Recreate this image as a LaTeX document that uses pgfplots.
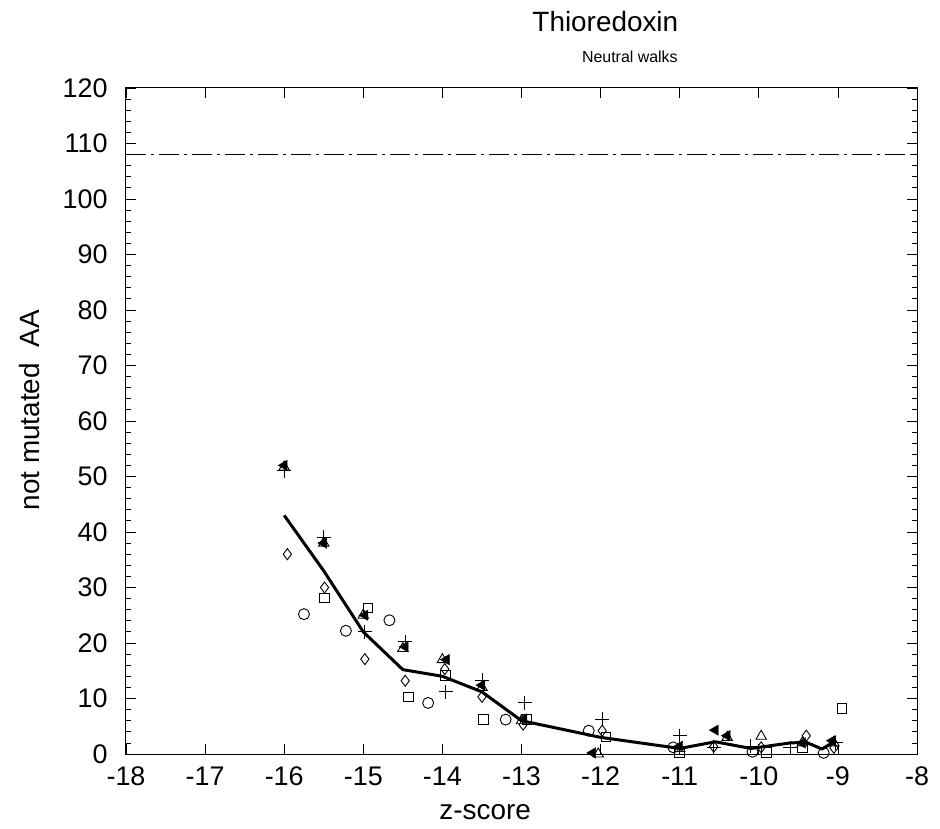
\documentclass[border=0pt]{standalone}
\usepackage{pgfplots}
\pgfplotsset{compat=1.18}
\usepackage{fontspec}
\setmainfont{Liberation Sans}
\begin{document}
\begin{tikzpicture}
\begin{axis}[
  scale only axis,
  width=791bp, height=666bp,
  xmin=-18, xmax=-8, ymin=0, ymax=120,
  xtick={-18,-17,...,-8},
  ytick={0,10,...,120},
  minor y tick num=4,
  tick align=inside,
  major tick length=10bp,
  minor tick length=5bp,
  axis line style={line width=1bp},
  every tick/.style={line width=0.8bp, black},
  /pgf/number format/assume math mode=true,
  tick label style={font=\fontsize{27}{32}\selectfont},
  xticklabel style={yshift=-9bp},
  yticklabel style={xshift=-15bp},
  clip=false,
]
% dash-dot reference line
\addplot[black, line width=1bp, dash pattern=on 20bp off 5bp on 3bp off 5bp] coordinates {(-18,108) (-8,108)};
% mean curve
\addplot[black, line width=3bp, line join=round] coordinates {
(-16,43) (-15.5,33) (-15,22) (-14.5,15.2) (-14,14) (-13.5,11.2) (-13,6) (-12,3) (-11,1) (-10.55,2.2) (-10.1,1) (-9.6,2) (-9.4,2.1) (-9.2,0.9) (-9.05,2.2)};
% open triangles
\addplot[only marks, mark=triangle, mark size=6bp, mark options={line width=0.9bp, black}] coordinates {
(-16,51.7) (-15.5,38) (-15,25) (-14.5,19) (-14,17) (-13.5,12) (-13,6) (-12.03,0) (-11,1) (-10.4,3) (-9.97,3.2) (-9.45,2) (-9.05,2)};
% filled left triangles
\addplot[only marks, mark=triangle*, mark size=6bp, mark options={rotate=90, black, fill=black}] coordinates {
(-16,52) (-15.5,38) (-14.98,25) (-14.47,19.3) (-13.95,17) (-13.5,12.4) (-12.97,6.3) (-12.1,0.2) (-11,1.4) (-10.55,4.3) (-10.4,3.3) (-9.45,2) (-9.07,2.4)};
% plus
\addplot[only marks, mark=+, mark size=7bp, mark options={line width=0.9bp, black}] coordinates {
(-16,51) (-15.5,39.1) (-14.98,22) (-14.47,20.2) (-13.96,11.2) (-13.5,13.3) (-12.96,9.2) (-11.98,6.3) (-11,3.3) (-10.57,1.2) (-10.1,1.4) (-9.6,1.1) (-9.03,2)};
% diamonds
\addplot[only marks, mark=diamond, mark size=5.5bp, mark options={line width=0.9bp, black}] coordinates {
(-15.96,36) (-15.49,30) (-14.98,17.1) (-14.47,13.2) (-13.97,15.3) (-13.5,10.3) (-12.98,5.3) (-11.98,4.2) (-10.57,1.3) (-9.97,1.2) (-9.4,3.3) (-9.05,1.1)};
% squares
\addplot[only marks, mark=square, mark size=4.8bp, mark options={line width=0.9bp, black}] coordinates {
(-15.49,28.1) (-14.94,26.3) (-14.43,10.3) (-13.96,14.2) (-13.48,6.2) (-12.93,6.2) (-11.93,3.1) (-11,0.2) (-9.9,0.3) (-9.45,1.1) (-8.95,8.2)};
% circles
\addplot[only marks, mark=o, mark size=5.5bp, mark options={line width=0.9bp, black}] coordinates {
(-15.75,25.2) (-15.22,22.2) (-14.67,24.1) (-14.18,9.2) (-13.2,6.2) (-12.15,4.2) (-11.08,1.2) (-10.08,0.4) (-9.18,0.2)};
% labels
\node[font=\fontsize{28}{32}\selectfont, anchor=center, yshift=66bp] at (rel axis cs:0.606,1) {Thioredoxin};
\node[font=\fontsize{16}{20}\selectfont, anchor=center, yshift=31bp] at (rel axis cs:0.637,1) {Neutral walks};
\node[font=\fontsize{28}{32}\selectfont, anchor=center, yshift=-58bp] at (rel axis cs:0.454,0) {z-score};
\node[font=\fontsize{28}{32}\selectfont, anchor=center, xshift=-96bp, rotate=90] at (rel axis cs:0,0.516) {not mutated\ \ AA};
\end{axis}
\pgfresetboundingbox
\path (-126bp,-75bp) rectangle (814bp,754bp);
\end{tikzpicture}
\end{document}
